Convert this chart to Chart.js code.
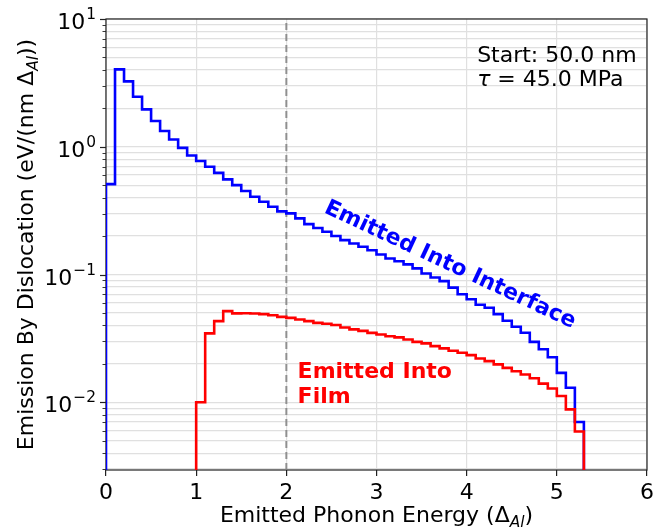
<!DOCTYPE html>
<html><head><meta charset="utf-8">
<script src="https://cdn.jsdelivr.net/npm/chart.js@4/dist/chart.umd.min.js"></script>
<style>html,body{margin:0;padding:0;background:#fff;}#wrap{width:663px;height:530px;position:relative;}</style>
</head><body><div id="wrap"><canvas id="c"></canvas></div>
<script>
// ---- data ----
const binEdges = [0.0,0.1,0.2,0.3,0.4,0.5,0.6,0.7,0.8,0.9,1.0,1.1,1.2,1.3,1.4,1.5,1.6,1.7,1.8,1.9,
  2.0,2.1,2.2,2.3,2.4,2.5,2.6,2.7,2.8,2.9,3.0,3.1,3.2,3.3,3.4,3.5,3.6,3.7,3.8,3.9,
  4.0,4.1,4.2,4.3,4.4,4.5,4.6,4.7,4.8,4.9,5.0,5.1,5.2,5.3];
const interfaceValues = [0.51,4.03,3.25,2.46,1.96,1.59,1.33,1.14,0.98,0.855,
  0.773,0.697,0.625,0.555,0.501,0.45,0.406,0.371,0.339,0.312,
  0.301,0.275,0.248,0.231,0.216,0.2,0.186,0.175,0.165,0.155,
  0.1436,0.1336,0.127,0.12,0.1116,0.1019,0.0948,0.0887,0.079,0.070,
  0.064,0.058,0.055,0.049,0.0435,0.039,0.035,0.0297,0.026,0.0225,
  0.017,0.013,0.007];
const filmValues = [0,0,0,0,0,0,0,0,0,0,
  0.010,0.0346,0.0432,0.0517,0.0496,0.0497,0.0495,0.049,0.048,0.0466,
  0.0458,0.0445,0.0432,0.0418,0.0412,0.0402,0.0385,0.0372,0.0362,0.0349,
  0.0339,0.0329,0.0322,0.031,0.0297,0.0289,0.0275,0.0264,0.0253,0.0244,
  0.0234,0.022,0.021,0.0198,0.0186,0.0175,0.0165,0.0154,0.014,0.0128,
  0.0112,0.0088,0.0059];
const refLineX = 2.0;
const xTickValues = [0,1,2,3,4,5,6];
const yMajorTicks = [0.01,0.1,1,10];
const yMajorExponents = ['\u22122','\u22121','0','1'];
const yMinorTicks = [0.003,0.004,0.005,0.006,0.007,0.008,0.009,
  0.02,0.03,0.04,0.05,0.06,0.07,0.08,0.09,
  0.2,0.3,0.4,0.5,0.6,0.7,0.8,0.9,
  2,3,4,5,6,7,8,9];
const xRange = [0,6];
const yRange = [0.00295,10];
const floorValue = 1e-4;
const infoLines = ['Start: 50.0 nm', ' = 45.0 MPa'];

// ---- build stepped points ----
function stepPoints(edges, vals){
  const pts = [];
  const f = v => (v > 0 ? v : floorValue);
  pts.push({x: edges[0], y: floorValue});
  for (let i = 0; i < vals.length; i++) pts.push({x: edges[i], y: f(vals[i])});
  pts.push({x: edges[vals.length], y: f(vals[vals.length-1])});
  pts.push({x: edges[vals.length], y: floorValue});
  return pts;
}

const FONT = "'DejaVu Sans'";
const FS = 22;

function drawParts(ctx, parts, x, y, align){
  // parts: {t, italic, sub, bold}
  const fontOf = p => (p.italic?'italic ':'') + (p.bold?'bold ':'') + (p.sub? (FS*0.7).toFixed(1) : FS) + 'px ' + FONT;
  let total = 0;
  parts.forEach(p => { ctx.font = fontOf(p); p.w = ctx.measureText(p.t).width; total += p.w; });
  let cx = align === 'center' ? x - total/2 : (align === 'right' ? x - total : x);
  ctx.textAlign = 'left';
  ctx.textBaseline = 'alphabetic';
  parts.forEach(p => {
    ctx.font = fontOf(p);
    ctx.fillText(p.t, cx, y + (p.sub ? 5 : 0));
    cx += p.w;
  });
}

const overlay = {
  id: 'overlay',
  beforeDatasetsDraw(chart){
    const {ctx, chartArea: a} = chart;
    ctx.save();
    ctx.strokeStyle = '#222';
    ctx.lineWidth = 1.2;
    ctx.strokeRect(a.left, a.top, a.right - a.left, a.bottom - a.top);
    ctx.restore();
  },
  afterDraw(chart){
    const {ctx, chartArea: a, scales} = chart;
    const ys = scales.y, xs = scales.x;
    ctx.save();
    ctx.fillStyle = '#000';
    ctx.strokeStyle = '#222';
    // y tick marks
    ctx.lineWidth = 1.2;
    yMajorTicks.forEach(v => {
      const py = Math.round(ys.getPixelForValue(v)) + 0.5;
      ctx.beginPath(); ctx.moveTo(a.left - 6, py); ctx.lineTo(a.left, py); ctx.stroke();
    });
    ctx.lineWidth = 0.9;
    yMinorTicks.forEach(v => {
      if (v < yRange[0] || v > yRange[1]) return;
      const py = Math.round(ys.getPixelForValue(v)) + 0.5;
      ctx.beginPath(); ctx.moveTo(a.left - 3.5, py); ctx.lineTo(a.left, py); ctx.stroke();
    });
    // y tick labels 10^k
    yMajorTicks.forEach((v, i) => {
      const py = ys.getPixelForValue(v);
      const right = a.left - 10;
      ctx.font = (FS*0.7).toFixed(1) + 'px ' + FONT;
      const ew = ctx.measureText(yMajorExponents[i]).width;
      ctx.textBaseline = 'alphabetic';
      ctx.textAlign = 'left';
      ctx.fillText(yMajorExponents[i], right - ew, py + 10 - 10);
      ctx.font = FS + 'px ' + FONT;
      ctx.textAlign = 'right';
      ctx.fillText('10', right - ew - 1, py + 10);
    });
    // x axis title
    drawParts(ctx, [{t:'Emitted Phonon Energy (\u0394'},{t:'Al', italic:true, sub:true},{t:')'}],
      (a.left + a.right)/2, 522, 'center');
    // y axis title
    ctx.save();
    ctx.translate(33, (a.top + a.bottom)/2);
    ctx.rotate(-Math.PI/2);
    drawParts(ctx, [{t:'Emission By Dislocation (eV/(nm \u0394'},{t:'Al', italic:true, sub:true},{t:'))'}], 0, 0, 'center');
    ctx.restore();
    // info text
    const ix = a.left + 0.686*(a.right - a.left);
    const iy = a.top + 42.5;
    ctx.font = FS + 'px ' + FONT; ctx.textAlign = 'left'; ctx.textBaseline = 'alphabetic';
    ctx.fillText(infoLines[0], ix, iy);
    drawParts(ctx, [{t:'\u03C4', italic:true},{t:infoLines[1]}], ix, iy + 24, 'left');
    // interface label
    ctx.save();
    ctx.fillStyle = '#0000ff';
    ctx.translate(xs.getPixelForValue(3.79), ys.getPixelForValue(0.108));
    ctx.rotate(25*Math.PI/180);
    ctx.font = 'bold ' + FS + 'px ' + FONT; ctx.textAlign = 'center'; ctx.textBaseline = 'alphabetic';
    ctx.fillText('Emitted Into Interface', 0, 0);
    ctx.restore();
    // film label
    ctx.fillStyle = '#ff0000';
    ctx.font = 'bold ' + FS + 'px ' + FONT; ctx.textAlign = 'left'; ctx.textBaseline = 'alphabetic';
    const fx = xs.getPixelForValue(2.125), fy = ys.getPixelForValue(0.01535);
    ctx.fillText('Emitted Into', fx, fy);
    ctx.fillText('Film', fx, fy + 24.5);
    ctx.restore();
  }
};

Chart.defaults.font.family = FONT;
Chart.defaults.color = '#000';

new Chart(document.getElementById('c'), {
  type: 'line',
  data: {
    datasets: [
      { label: 'Emitted Into Film', data: stepPoints(binEdges, filmValues), stepped: true,
        borderColor: '#ff0000', borderWidth: 2.6, pointRadius: 0, fill: false, order: 0 },
      { label: 'Emitted Into Interface', data: stepPoints(binEdges, interfaceValues), stepped: true,
        borderColor: '#0000ff', borderWidth: 2.6, pointRadius: 0, fill: false, order: 1 },
      { label: 'ref', data: [{x: refLineX, y: yRange[0]}, {x: refLineX, y: yRange[1]}],
        borderColor: 'rgba(128,128,128,0.85)', borderWidth: 2, borderDash: [7,4], pointRadius: 0, fill: false, order: 2 }
    ]
  },
  options: {
    responsive: true, maintainAspectRatio: false, animation: false,
    layout: { padding: { left: 0, right: 16, top: 19, bottom: 0 } },
    plugins: { legend: { display: false }, tooltip: { enabled: false } },
    scales: {
      x: {
        type: 'linear', min: xRange[0], max: xRange[1],
        afterBuildTicks: s => { s.ticks = xTickValues.map(v => ({value: v})); },
        afterFit: s => { s.height = 60; },
        ticks: { font: { size: FS }, color: '#000', padding: 4, autoSkip: false, maxRotation: 0,
                 callback: v => String(v) },
        grid: { color: '#e0e0e0', lineWidth: 1.2, drawTicks: true, tickLength: 6, tickColor: '#222', tickWidth: 1.2 },
        border: { display: false }
      },
      y: {
        type: 'logarithmic', min: yRange[0], max: yRange[1],
        afterBuildTicks: s => {
          const all = yMinorTicks.concat(yMajorTicks).filter(v => v >= yRange[0] && v <= yRange[1]).sort((p,q)=>p-q);
          s.ticks = all.map(v => ({value: v}));
        },
        afterFit: s => { s.width = 106; },
        ticks: { display: true, autoSkip: false, callback: () => '' },
        grid: { color: '#e0e0e0', lineWidth: 1.2, drawTicks: false },
        border: { display: false }
      }
    }
  },
  plugins: [overlay]
});
</script>
</body></html>
